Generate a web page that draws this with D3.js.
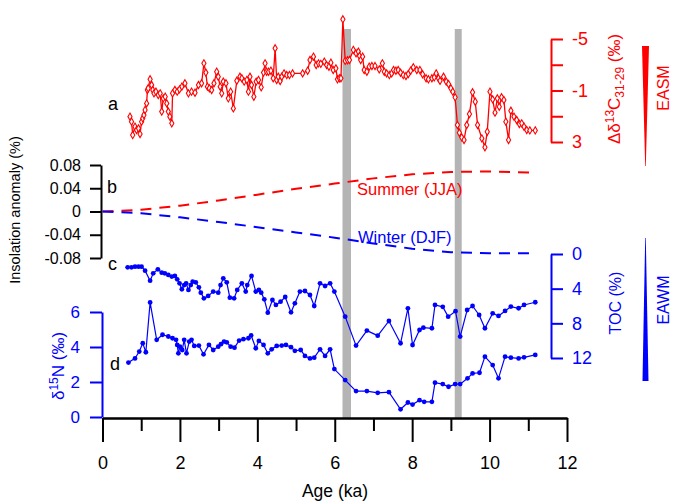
<!DOCTYPE html>
<html>
<head>
<meta charset="utf-8">
<script src="https://cdn.jsdelivr.net/npm/d3@7"></script>
<style>
  body { margin: 0; background: #fff; }
  svg text { font-family: "Liberation Sans", Arial, sans-serif; }
</style>
</head>
<body>
<div id="chart"></div>
<script>
// ---- data (age in ka) ----
const redAge = [0.71,0.75,0.78,0.84,0.88,0.93,0.97,1.01,1.04,1.07,1.10,1.14,1.16,1.18,1.23,1.27,1.30,1.33,1.38,1.44,1.49,1.53,1.57,1.62,1.66,1.70,1.74,1.79,1.81,1.87,1.93,1.99,2.05,2.13,2.22,2.30,2.39,2.48,2.56,2.62,2.67,2.71,2.76,2.82,2.88,2.95,2.99,3.04,3.08,3.12,3.19,3.25,3.31,3.38,3.47,3.55,3.60,3.66,3.73,3.77,3.81,3.85,3.91,3.97,4.03,4.10,4.16,4.20,4.24,4.29,4.35,4.41,4.46,4.50,4.54,4.59,4.63,4.69,4.76,4.83,4.91,5.17,5.30,5.36,5.45,5.52,5.58,5.64,5.73,5.79,5.85,5.90,5.96,6.03,6.07,6.12,6.16,6.21,6.27,6.33,6.38,6.48,6.55,6.61,6.64,6.67,6.72,6.76,6.83,6.89,6.96,7.04,7.15,7.23,7.28,7.34,7.41,7.47,7.52,7.58,7.64,7.70,7.77,7.84,7.90,7.96,8.03,8.12,8.20,8.27,8.36,8.42,8.51,8.57,8.62,8.68,8.72,8.81,8.88,8.94,9.00,9.05,9.11,9.17,9.22,9.28,9.34,9.41,9.48,9.56,9.63,9.69,9.80,9.88,9.94,10.01,10.08,10.14,10.20,10.25,10.31,10.37,10.42,10.49,10.55,10.63,10.70,10.77,10.83,10.89,10.96,11.04,11.18];
const redVal = [1.03,1.42,2.46,1.81,2.07,1.94,2.38,1.42,1.16,0.90,0.51,0.00,-1.04,-1.17,-1.87,-1.43,-1.04,-0.78,-0.91,-0.65,-0.78,0.64,-0.39,-0.52,0.00,0.64,1.03,1.55,-0.78,-1.04,-0.91,-1.09,-1.30,-1.56,-0.78,-0.91,-0.83,-1.43,-1.56,-3.11,-2.39,-1.30,-1.17,-1.04,-1.56,-2.46,-2.07,-1.30,-0.78,-1.69,-1.56,-0.39,-0.91,0.39,-1.76,-2.07,-1.95,-1.69,-1.82,-0.91,-2.07,-1.43,-0.52,-1.69,-1.82,-1.25,-2.39,-3.11,-2.46,-2.46,-2.54,-1.95,-4.28,-1.82,-2.07,-1.74,-2.07,-2.33,-2.20,-2.20,-2.33,-2.33,-2.54,-3.37,-3.63,-2.98,-3.11,-3.07,-3.24,-2.98,-2.85,-3.16,-2.59,-2.72,-1.87,-1.95,-1.95,-6.53,-3.30,-3.35,-3.37,-4.15,-3.89,-4.02,-3.68,-3.37,-3.63,-2.59,-2.46,-2.85,-2.90,-2.90,-2.64,-3.11,-2.46,-2.33,-2.20,-2.33,-2.59,-2.54,-2.59,-2.38,-2.20,-2.13,-2.28,-2.54,-2.80,-2.59,-2.59,-2.26,-1.95,-1.87,-1.95,-2.02,-2.33,-1.95,-1.76,-2.07,-1.69,-1.50,-1.17,-0.91,-0.47,1.68,2.28,2.64,2.84,1.68,0.83,-0.86,-0.13,1.68,2.72,3.41,2.20,-0.91,-0.31,0.72,-0.39,0.26,-0.47,-0.26,1.42,2.84,0.57,1.03,1.29,1.60,1.55,1.81,2.07,2.10,2.10];

const insAge = [0,1,2,3,4,5,6,7,8,9,10,11,11.2];
const summerVals = [0,0.003,0.010,0.019,0.029,0.039,0.048,0.057,0.064,0.068,0.069,0.067,0.066];
const winterVals = [0,-0.003,-0.010,-0.018,-0.027,-0.036,-0.045,-0.055,-0.064,-0.070,-0.072,-0.072,-0.072];

const tocAge = [0.65,0.75,0.84,0.93,1.01,1.10,1.23,1.31,1.43,1.53,1.61,1.70,1.79,1.87,1.93,1.99,2.05,2.11,2.16,2.22,2.28,2.33,2.41,2.49,2.54,2.62,2.73,2.86,2.99,3.05,3.12,3.21,3.29,3.40,3.48,3.60,3.70,3.74,3.85,3.96,4.04,4.10,4.18,4.27,4.39,4.48,4.60,4.72,4.87,4.97,5.10,5.23,5.36,5.47,5.62,5.75,5.88,5.99,6.27,6.55,6.83,7.11,7.40,7.70,7.89,8.01,8.19,8.29,8.51,8.59,8.79,8.93,9.12,9.24,9.42,9.56,9.73,9.88,10.08,10.23,10.40,10.55,10.75,10.89,11.18];
const tocVal = [1.54,1.54,1.46,1.46,1.46,1.92,3.08,2.23,1.77,2.15,2.23,2.42,2.61,2.53,2.92,3.38,4.07,3.58,3.38,4.15,3.58,3.19,3.27,3.84,4.46,5.11,4.84,4.34,4.46,3.58,2.81,3.27,5.04,5.11,4.15,3.38,4.34,3.58,2.53,4.34,4.15,4.46,5.23,6.77,5.31,5.88,5.50,4.96,6.73,5.69,4.34,4.27,4.73,6.00,3.38,3.69,3.38,4.34,7.23,10.57,8.84,9.42,7.73,10.30,6.27,10.50,8.77,8.50,8.57,5.88,6.10,7.23,6.60,9.53,6.46,6.00,7.04,8.57,6.84,7.15,6.57,6.07,6.26,5.88,5.57];

const n15Age = [0.67,0.84,0.95,1.04,1.12,1.23,1.40,1.55,1.70,1.81,1.90,1.93,1.96,2.00,2.06,2.11,2.17,2.24,2.30,2.37,2.49,2.61,2.75,2.86,2.99,3.06,3.14,3.21,3.31,3.41,3.53,3.64,3.77,3.84,3.96,4.04,4.16,4.27,4.37,4.50,4.63,4.74,4.87,4.97,5.12,5.23,5.36,5.47,5.62,5.75,5.88,5.99,6.27,6.55,6.83,7.11,7.40,7.70,7.89,8.01,8.19,8.31,8.51,8.59,8.79,8.94,9.11,9.24,9.43,9.56,9.74,9.88,10.08,10.23,10.40,10.55,10.75,10.89,11.18];
const n15Val = [3.11,3.35,3.74,4.22,3.70,6.55,4.41,4.70,4.60,4.50,4.41,4.12,3.64,4.02,3.83,4.41,3.64,4.31,4.41,4.06,4.08,3.58,4.12,3.83,4.02,4.16,4.31,4.27,4.02,3.96,4.37,4.45,4.50,4.66,3.93,4.35,4.12,3.64,3.87,4.06,4.08,4.12,3.99,3.78,3.83,3.49,3.35,3.39,3.87,3.49,3.87,2.74,2.11,1.48,1.48,1.38,1.42,0.44,0.83,0.71,0.96,0.87,0.87,1.96,1.88,1.73,1.88,1.88,2.21,2.49,2.53,3.45,2.97,2.21,3.45,3.39,3.35,3.41,3.55];

// grey bands (ka)
const bands = [[6.2, 6.42], [9.1, 9.28]];

const xTicksMajor = [0,2,4,6,8,10,12];
const redTicks = [-5,-3,-1,1,3];
const redLabels = ["-5","","-1","","3"];
const insTicks = [0.08,0.04,0,-0.04,-0.08];
const insLabels = ["0.08","0.04","0","-0.04","-0.08"];
const tocTicks = [0,4,8,12];
const n15Ticks = [0,2,4,6];

const RED = "#ff0000";
const BLUE = "#0000ff";
const width = 673, height = 503;

const x = d3.scaleLinear().domain([0, 12]).range([102.5, 567]);
const yRed = d3.scaleLinear().domain([-5, 3]).range([39, 142]);
const yIns = d3.scaleLinear().domain([-0.08, 0.08]).range([258, 165]);
const yToc = d3.scaleLinear().domain([0, 12]).range([254, 358]);
const yN = d3.scaleLinear().domain([0, 6]).range([417, 312]);

const svg = d3.select("#chart").append("svg")
  .attr("width", width).attr("height", height);

// grey bands
svg.selectAll("rect.band").data(bands).enter().append("rect")
  .attr("class", "band")
  .attr("x", d => x(d[0]))
  .attr("width", d => x(d[1]) - x(d[0]))
  .attr("y", 29).attr("height", 389)
  .attr("fill", "#b4b4b4");

function styleAxis(g, color, fs) {
  g.select(".domain").attr("stroke", color).attr("stroke-width", 2);
  g.selectAll(".tick line").attr("stroke", color).attr("stroke-width", 2);
  g.selectAll(".tick text").attr("fill", color).attr("font-size", fs);
}

// ---- a: red series ----
const redAxis = d3.axisRight(yRed).tickValues(redTicks)
  .tickFormat((d, i) => redLabels[i]).tickSize(12).tickSizeOuter(0).tickPadding(9);
svg.append("g").attr("transform", "translate(551,0)").call(redAxis)
  .call(g => styleAxis(g, RED, 18));

const redData = redAge.map((a, i) => [a, redVal[i]]);
svg.append("path").datum(redData)
  .attr("fill", "none").attr("stroke", RED).attr("stroke-width", 1.3)
  .attr("d", d3.line().x(d => x(d[0])).y(d => yRed(d[1])));
svg.selectAll("path.rdot").data(redData).enter().append("path")
  .attr("class", "rdot")
  .attr("transform", d => `translate(${x(d[0])},${yRed(d[1])})`)
  .attr("d", d3.symbol(d3.symbolDiamond, 15))
  .attr("fill", "#fff").attr("stroke", RED).attr("stroke-width", 1.1);

// ---- b: insolation ----
const insAxis = d3.axisLeft(yIns).tickValues(insTicks)
  .tickFormat((d, i) => insLabels[i]).tickSize(11).tickSizeOuter(0).tickPadding(9);
svg.append("g").attr("transform", "translate(101,0)").call(insAxis)
  .call(g => styleAxis(g, "#000", 16));

const insLine = vals => d3.line().x((d, i) => x(insAge[i])).y(d => yIns(d))(vals);
svg.append("path").attr("d", insLine(summerVals))
  .attr("fill", "none").attr("stroke", RED).attr("stroke-width", 2).attr("stroke-dasharray", "11,8");
svg.append("path").attr("d", insLine(winterVals))
  .attr("fill", "none").attr("stroke", BLUE).attr("stroke-width", 2).attr("stroke-dasharray", "11,8");
svg.append("text").attr("x", 357).attr("y", 195).attr("fill", RED).attr("font-size", 16.5).text("Summer (JJA)");
svg.append("text").attr("x", 358).attr("y", 243).attr("fill", BLUE).attr("font-size", 16.5).text("Winter (DJF)");

// ---- c: TOC ----
const tocAxis = d3.axisRight(yToc).tickValues(tocTicks).tickSize(12).tickSizeOuter(0).tickPadding(9);
svg.append("g").attr("transform", "translate(551,0)").call(tocAxis)
  .call(g => styleAxis(g, BLUE, 18));

const tocData = tocAge.map((a, i) => [a, tocVal[i]]);
svg.append("path").datum(tocData)
  .attr("fill", "none").attr("stroke", BLUE).attr("stroke-width", 1.2)
  .attr("d", d3.line().x(d => x(d[0])).y(d => yToc(d[1])));
svg.selectAll("circle.tdot").data(tocData).enter().append("circle")
  .attr("class", "tdot").attr("cx", d => x(d[0])).attr("cy", d => yToc(d[1]))
  .attr("r", 2.4).attr("fill", BLUE);

// ---- d: d15N ----
const nAxis = d3.axisLeft(yN).tickValues(n15Ticks).tickFormat(d3.format("d"))
  .tickSize(12).tickSizeOuter(0).tickPadding(10);
svg.append("g").attr("transform", "translate(102,0)").call(nAxis)
  .call(g => styleAxis(g, BLUE, 17));

const nData = n15Age.map((a, i) => [a, n15Val[i]]);
svg.append("path").datum(nData)
  .attr("fill", "none").attr("stroke", BLUE).attr("stroke-width", 1.2)
  .attr("d", d3.line().x(d => x(d[0])).y(d => yN(d[1])));
svg.selectAll("circle.ndot").data(nData).enter().append("circle")
  .attr("class", "ndot").attr("cx", d => x(d[0])).attr("cy", d => yN(d[1]))
  .attr("r", 2.4).attr("fill", BLUE);

// ---- x axis ----
const xMinor = d3.axisBottom(x).tickValues(d3.range(1, 12, 2)).tickSize(13).tickFormat("").tickSizeOuter(0);
svg.append("g").attr("transform", "translate(0,418)").call(xMinor)
  .call(g => styleAxis(g, "#000", 18));
const xMajor = d3.axisBottom(x).tickValues(xTicksMajor).tickSize(24).tickSizeOuter(0).tickPadding(14);
svg.append("g").attr("transform", "translate(0,418)").call(xMajor)
  .call(g => styleAxis(g, "#000", 18));
svg.append("text").attr("x", 335).attr("y", 497).attr("text-anchor", "middle")
  .attr("font-size", 17.5).text("Age (ka)");

// ---- axis titles ----
function vtext(xp, yp, color, fs) {
  return svg.append("text").attr("transform", `translate(${xp},${yp}) rotate(-90)`)
    .attr("text-anchor", "middle").attr("fill", color).attr("font-size", fs);
}
const t1 = vtext(620, 89, RED, 17);
t1.append("tspan").text("Δδ");
t1.append("tspan").attr("font-size", 12).attr("dy", -6).text("13");
t1.append("tspan").attr("dy", 6).text("C");
t1.append("tspan").attr("font-size", 12).attr("dy", 4).text("31-29");
t1.append("tspan").attr("dy", -4).text(" (‰)");

vtext(20, 210, "#000", 14.5).text("Insolation anomaly (%)");
vtext(621, 303, BLUE, 16).text("TOC (%)");

const t4 = vtext(64, 366, BLUE, 17);
t4.append("tspan").text("δ");
t4.append("tspan").attr("font-size", 12).attr("dy", -6).text("15");
t4.append("tspan").attr("dy", 6).text("N (‰)");

vtext(669, 88, RED, 16).text("EASM");
vtext(669, 300, BLUE, 16).text("EAWM");

// monsoon strength wedges
svg.append("path").attr("d", "M642,46 L649,46 L645.8,166 L645.2,166 Z").attr("fill", RED);
svg.append("path").attr("d", "M645.2,238 L645.8,238 L648.5,381 L642.5,381 Z").attr("fill", BLUE);

// panel letters
[["a", 108, 110], ["b", 107, 193], ["c", 108, 270], ["d", 110, 370]].forEach(l => {
  svg.append("text").attr("x", l[1]).attr("y", l[2]).attr("font-size", 18).text(l[0]);
});
</script>
</body>
</html>
